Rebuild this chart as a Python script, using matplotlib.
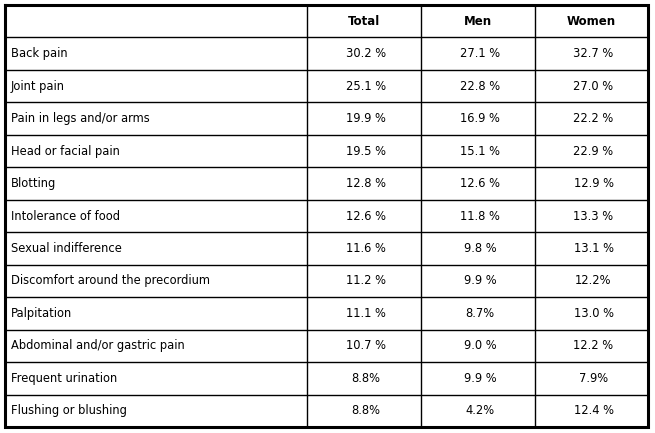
import matplotlib
matplotlib.use("Agg")
import matplotlib.pyplot as plt

columns = ["Total", "Men", "Women"]
symptoms = ["Back pain", "Joint pain", "Pain in legs and/or arms", "Head or facial pain",
            "Blotting", "Intolerance of food", "Sexual indifference",
            "Discomfort around the precordium", "Palpitation",
            "Abdominal and/or gastric pain", "Frequent urination", "Flushing or blushing"]
total = ["30.2 %", "25.1 %", "19.9 %", "19.5 %", "12.8 %", "12.6 %", "11.6 %",
         "11.2 %", "11.1 %", "10.7 %", "8.8%", "8.8%"]
men = ["27.1 %", "22.8 %", "16.9 %", "15.1 %", "12.6 %", "11.8 %", "9.8 %",
       "9.9 %", "8.7%", "9.0 %", "9.9 %", "4.2%"]
women = ["32.7 %", "27.0 %", "22.2 %", "22.9 %", "12.9 %", "13.3 %", "13.1 %",
         "12.2%", "13.0 %", "12.2 %", "7.9%", "12.4 %"]

plt.rcParams['font.family'] = ['DejaVu Sans']

fig = plt.figure(figsize=(6.55, 4.33), dpi=100)
ax = fig.add_axes([0, 0, 1, 1])
ax.set_xlim(0, 655)
ax.set_ylim(433, 0)
ax.axis("off")

left, right, top, bottom = 5, 648, 5, 427
col_x = [left, 307, 421, 535, right]
n_rows = len(symptoms) + 1
row_h = (bottom - top) / n_rows
row_y = [top + i * row_h for i in range(n_rows + 1)]

# grid
ax.hlines(row_y[1:-1], left, right, color="black", lw=1.0)
ax.vlines(col_x[1:-1], top, bottom, color="black", lw=1.0)
ax.plot([left, right, right, left, left], [top, top, bottom, bottom, top],
        color="black", lw=2.2, solid_joinstyle="miter")

fs = 8.3
for j, name in enumerate(columns):
    cx = (col_x[j + 1] + col_x[j + 2]) / 2
    ax.text(cx, (row_y[0] + row_y[1]) / 2, name, ha="center", va="center",
            fontsize=fs + 0.2, fontweight="bold")

for i, label in enumerate(symptoms):
    cy = (row_y[i + 1] + row_y[i + 2]) / 2
    ax.text(col_x[0] + 6, cy, label, ha="left", va="center", fontsize=fs)
    for j, vals in enumerate([total, men, women]):
        cx = (col_x[j + 1] + col_x[j + 2]) / 2 + 2
        ax.text(cx, cy, vals[i], ha="center", va="center", fontsize=fs)

fig.savefig("out.png", dpi=100, facecolor="white")
